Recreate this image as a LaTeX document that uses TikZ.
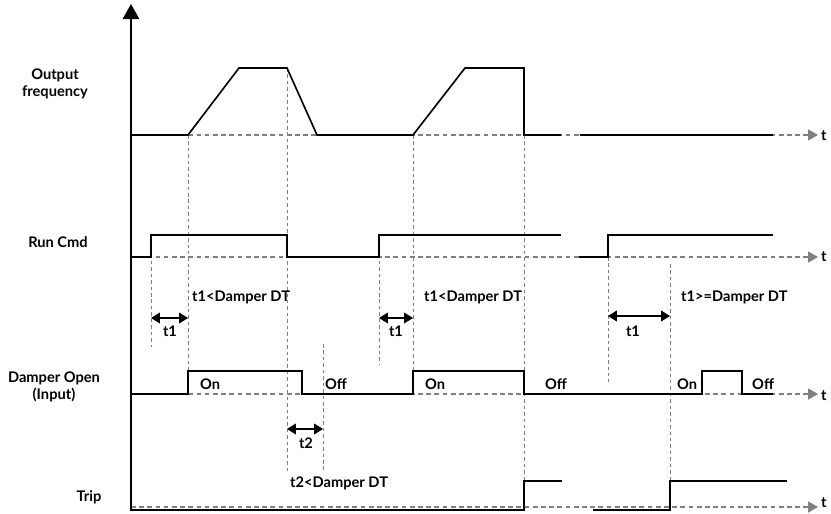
\documentclass[tikz,border=0pt]{standalone}
\usepackage{fontspec}
\setmainfont{Lato}
\usetikzlibrary{arrows.meta}

\begin{document}
\begin{tikzpicture}[
            font=\bfseries\fontsize{12.5}{14}\selectfont,
            % one unit = one pixel of the 831x514 sheet, y pointing down
            x=0.03cm, y=-0.03cm,
            sig/.style   ={line width=1.4pt},
            guide/.style ={draw=black!50, line width=0.7pt, dash pattern=on 3pt off 2.5pt},
            base/.style  ={draw=black!50, line width=1pt, dash pattern=on 4pt off 3pt,
                           -{Triangle[length=8.5pt,width=9.5pt]}},
            dimarr/.style={line width=1.4pt, {Triangle[length=7.5pt,width=9pt]}-{Triangle[length=7.5pt,width=9pt]}},
            rowlbl/.style={align=center, inner sep=0pt},
            note/.style  ={anchor=west, inner sep=0pt},
            tlbl/.style  ={anchor=west, inner sep=0pt}
        ]
        \useasboundingbox (0,0) rectangle (831,514);

        %% ===== time axes (dashed, grey) =====
        \draw[base] (131,135) -- (818,135);
        \draw[base] (131,257) -- (818,257);
        \draw[base] (131,394) -- (818,394);
        \draw[base] (131,507) -- (818,507);
        \node[tlbl] (tf) at (821,136) {t};
        \node[tlbl] (tr) at (821,257) {t};
        \node[tlbl] (td) at (821,396) {t};
        \node[tlbl] (tt) at (821,503) {t};

        %% ===== guide lines =====
        \draw[guide] (151,235) -- (151,347);
        \draw[guide] (188,135) -- (188,372);
        \draw[guide] (287,68)  -- (287,472);
        \draw[guide] (323,344) -- (323,472);
        \draw[guide] (379,235) -- (379,365);
        \draw[guide] (413,135) -- (413,371);
        \draw[guide] (524,135) -- (524,481);
        \draw[guide] (608,257) -- (608,382);
        \draw[guide] (670,264) -- (670,481);

        %% ===== vertical axis =====
        \draw[line width=2pt, -{Triangle[length=13pt,width=14pt]}] (131,511) -- (131,4);

        %% ===== row labels =====
        \node[rowlbl] (lfreq) at (55,84)  {Output\\frequency};
        \node[rowlbl] (lrun)  at (58,242) {Run Cmd};
        \node[rowlbl] (ldmp)  at (54,387) {Damper Open\\(Input)};
        \node[rowlbl] (ltrip) at (89,497) {Trip};

        %% ===== signals =====
        % output frequency
        \draw[sig] (131,135) -- (188,135) -- (239,68) -- (287,68) -- (317,135) -- (413,135)
                   -- (465,68) -- (524,68) -- (524,135) -- (561,135);
        \draw[sig] (580,135) -- (773,135);
        % run command
        \draw[sig] (131,257) -- (151,257) -- (151,235) -- (287,235) -- (287,257) -- (379,257)
                   -- (379,235) -- (561,235);
        \draw[sig] (579,257) -- (608,257) -- (608,235) -- (773,235);
        % damper open
        \draw[sig] (131,394) -- (188,394) -- (188,371) -- (302,371) -- (302,394) -- (413,394)
                   -- (413,371) -- (524,371) -- (524,394) -- (702,394) -- (702,371)
                   -- (742,371) -- (742,394) -- (773,394);
        % trip
        \draw[sig] (131,510) -- (524,510) -- (524,481) -- (562,481);
        \draw[sig] (593,510) -- (670,510) -- (670,481) -- (787,481);

        %% ===== delay marks =====
        \coordinate (a1) at (151,318); \coordinate (b1) at (188,318);
        \coordinate (a2) at (379,318); \coordinate (b2) at (413,318);
        \coordinate (a3) at (608,316); \coordinate (b3) at (670,316);
        \coordinate (a4) at (287,429); \coordinate (b4) at (323,429);
        \draw[dimarr] (a1) -- (b1);
        \draw[dimarr] (a2) -- (b2);
        \draw[dimarr] (a3) -- (b3);
        \draw[dimarr] (a4) -- (b4);
        \node (d1) at (170,331) {t1};
        \node (d2) at (396,331) {t1};
        \node (d3) at (633,331) {t1};
        \node (d4) at (306,443) {t2};

        %% ===== notes =====
        \node[note] (n1) at (192,297) {t1<Damper DT};
        \node[note] (n2) at (424,297) {t1<Damper DT};
        \node[note] (n3) at (681,297) {t1>=Damper DT};
        \node[note] (n4) at (290,483) {t2<Damper DT};
        \node[note] (s1) at (200,384) {On};
        \node[note] (s2) at (325,384) {Off};
        \node[note] (s3) at (425,384) {On};
        \node[note] (s4) at (545,384) {Off};
        \node[note] (s5) at (677,384) {On};
        \node[note] (s6) at (752,384) {Off};

    \end{tikzpicture}
\end{document}
